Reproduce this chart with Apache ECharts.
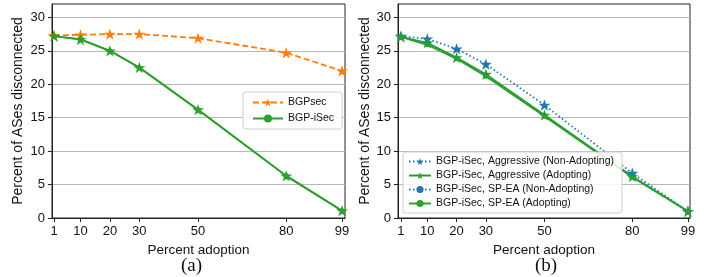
<!DOCTYPE html>
<html>
<head>
<meta charset="utf-8">
<title>ASes disconnected</title>
<script src="https://cdn.jsdelivr.net/npm/echarts@6/dist/echarts.min.js"></script>
<style>
  html, body { margin: 0; padding: 0; background: #fff; }
</style>
</head>
<body>
<div id="main" style="width:715px;height:277px;"></div>
<script>
// data
var adoption = [1, 10, 20, 30, 50, 80, 99];
var yTicks = [0, 5, 10, 15, 20, 25, 30];

// panel (a)
var bgpsec = [27.3, 27.4, 27.5, 27.5, 26.9, 24.7, 22.0];
var bgpIsec = [27.2, 26.7, 25.0, 22.5, 16.2, 6.3, 1.1];

// panel (b)
var aggNonAdopt = [27.2, 26.8, 25.3, 23.0, 16.9, 6.7, 1.0];
var aggAdopt = [27.1, 26.2, 24.0, 21.5, 15.4, 6.2, 1.0];
var speaNonAdopt = [27.1, 26.0, 23.9, 21.3, 15.3, 6.2, 1.0];
var speaAdopt = [27.1, 25.9, 23.8, 21.2, 15.2, 6.1, 1.0];

var STAR = 'path://M100,0L122.45,69.1L195.1,69.1L136.33,111.8L158.78,180.9L100,138.2L41.22,180.9L63.67,111.8L4.9,69.1L77.55,69.1Z';
var FONT = 'Liberation Sans';
var ORANGE = '#ff7f0e', GREEN = '#2ca02c', BLUE = '#1f77b4';

function pts(ys) {
    return adoption.map(function (x, i) { return [x, ys[i]]; });
}

function xAxis(idx, min, max) {
    return {
        type: 'value', gridIndex: idx, min: min, max: max,
        name: 'Percent adoption', nameLocation: 'middle', nameGap: 24,
        nameTextStyle: { fontFamily: FONT, fontSize: 13.5, color: '#111' },
        axisLine: { show: true, onZero: false, lineStyle: { color: '#222', width: 1 } },
        axisTick: { show: true, length: 4, customValues: adoption, lineStyle: { color: '#222' } },
        axisLabel: { customValues: adoption, margin: 7, fontFamily: FONT, fontSize: 13, color: '#111' },
        splitLine: { show: false }
    };
}

function yAxis(idx, gap) {
    return {
        type: 'value', gridIndex: idx, min: 0, max: 32,
        name: 'Percent of ASes disconnected', nameLocation: 'middle', nameGap: gap,
        nameTextStyle: { fontFamily: FONT, fontSize: 14, color: '#111' },
        axisLine: { show: true, onZero: false, lineStyle: { color: '#222', width: 1 } },
        axisTick: { show: true, length: 4, customValues: yTicks, lineStyle: { color: '#222' } },
        axisLabel: { customValues: yTicks, margin: 7, fontFamily: FONT, fontSize: 13, color: '#111' },
        splitLine: { show: true, lineStyle: { color: '#b8b8b8', width: 1 } }
    };
}

function line(name, idx, ys, color, type, symbol, size) {
    return {
        name: name, type: 'line', xAxisIndex: idx, yAxisIndex: idx,
        data: pts(ys), symbol: symbol, symbolSize: size, symbolKeepAspect: true,
        showAllSymbol: true,
        lineStyle: { color: color, width: 1.8, type: type },
        itemStyle: { color: color },
        emphasis: { disabled: true }, animation: false
    };
}

var myChart = echarts.init(document.getElementById('main'));

var option = {
    backgroundColor: '#fff',
    animation: false,
    grid: [
        { left: 52, top: 4, width: 293, height: 214, show: true, borderColor: '#222', borderWidth: 1 },
        { left: 398, top: 4, width: 292, height: 214, show: true, borderColor: '#222', borderWidth: 1 }
    ],
    xAxis: [xAxis(0, 0.3, 100), xAxis(1, 0, 99.7)],
    yAxis: [yAxis(0, 27), yAxis(1, 26)],
    legend: [
        {
            orient: 'vertical', left: 243, top: 92, itemWidth: 30, itemHeight: 10, itemGap: 5,
            padding: [5, 8, 5, 9], borderColor: '#d0d0d0', borderWidth: 1, borderRadius: 3,
            backgroundColor: 'rgba(255,255,255,0.85)',
            textStyle: { fontFamily: FONT, fontSize: 10.5, color: '#111' },
            data: ['BGPsec', 'BGP-iSec']
        },
        {
            orient: 'vertical', left: 403, top: 152, itemWidth: 22, itemHeight: 9, itemGap: 3,
            padding: [4, 8, 4, 5], borderColor: '#d0d0d0', borderWidth: 1, borderRadius: 3,
            backgroundColor: 'rgba(255,255,255,0.85)',
            textStyle: { fontFamily: FONT, fontSize: 10.5, color: '#111' },
            data: ['BGP-iSec, Aggressive (Non-Adopting)', 'BGP-iSec, Aggressive (Adopting)',
                   'BGP-iSec, SP-EA (Non-Adopting)', 'BGP-iSec, SP-EA (Adopting)']
        }
    ],
    series: [
        line('BGPsec', 0, bgpsec, ORANGE, [6, 3], STAR, 12),
        line('BGP-iSec', 0, bgpIsec, GREEN, 'solid', 'circle', 5),
        line('BGP-iSec stars', 0, bgpIsec, GREEN, 'solid', STAR, 12),
        line('BGP-iSec, Aggressive (Non-Adopting)', 1, aggNonAdopt, BLUE, [1.5, 2.5], STAR, 12),
        line('BGP-iSec, Aggressive (Adopting)', 1, aggAdopt, GREEN, 'solid', STAR, 12),
        line('BGP-iSec, SP-EA (Non-Adopting)', 1, speaNonAdopt, BLUE, [1.5, 2.5], 'circle', 5),
        line('BGP-iSec, SP-EA (Adopting)', 1, speaAdopt, GREEN, 'solid', 'circle', 5)
    ],
    graphic: [
        { type: 'text', left: 181, top: 257, style: { text: '(a)', font: '19px "Liberation Serif"', fill: '#111' } },
        { type: 'text', left: 535, top: 257, style: { text: '(b)', font: '19px "Liberation Serif"', fill: '#111' } }
    ]
};

myChart.setOption(option);
</script>
</body>
</html>
